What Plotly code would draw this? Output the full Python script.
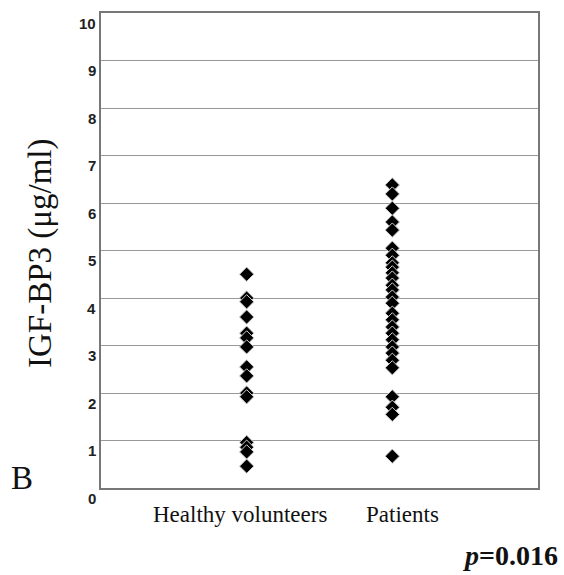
import plotly.graph_objects as go

groups = ["Healthy volunteers", "Patients"]
healthy = [4.5, 4.0, 3.92, 3.6, 3.26, 3.16, 2.97, 2.55, 2.36, 2.0, 1.92, 0.96, 0.86, 0.76, 0.46]
patients = [6.38, 6.19, 5.89, 5.6, 5.43, 5.05, 4.9, 4.74, 4.65, 4.53, 4.42, 4.27, 4.17,
            4.02, 3.89, 3.68, 3.54, 3.39, 3.26, 3.12, 2.97, 2.84, 2.69, 2.53, 1.92, 1.7, 1.55, 0.67]
y_ticks = list(range(0, 11))
p_text = "<i>p</i>=0.016"

fig = go.Figure()
for i, vals in enumerate([healthy, patients]):
    fig.add_trace(go.Scatter(
        x=[i + 1] * len(vals), y=vals, mode="markers",
        marker=dict(symbol="diamond", size=11, color="black",
                    line=dict(color="#d0d0d0", width=1)),
        showlegend=False, hoverinfo="y"))

annotations = []
for t in y_ticks:
    annotations.append(dict(x=0, y=t, xref="paper", yref="y", text="<b>" + str(t) + "</b>",
                            showarrow=False, xanchor="right", yanchor="middle",
                            xshift=-3, yshift=-10,
                            font=dict(family="Liberation Sans", size=15, color="#222")))
# category labels
annotations.append(dict(x=1, y=0, xref="x", yref="y", text=groups[0], showarrow=False,
                        xanchor="center", yanchor="top", xshift=-7, yshift=-12,
                        font=dict(family="Liberation Serif", size=23, color="#111")))
annotations.append(dict(x=2, y=0, xref="x", yref="y", text=groups[1], showarrow=False,
                        xanchor="center", yanchor="top", xshift=10, yshift=-12,
                        font=dict(family="Liberation Serif", size=23, color="#111")))
annotations.append(dict(x=40, y=254, xref="paper", yref="paper", text="IGF-BP3 (μg/ml)",
                        showarrow=False, textangle=-90, xanchor="center", yanchor="middle",
                        font=dict(family="Liberation Serif", size=33, color="#111")))
annotations.append(dict(x=22, y=478, xref="paper", yref="paper", text="B", showarrow=False,
                        xanchor="center", yanchor="middle",
                        font=dict(family="Liberation Serif", size=33, color="#111")))
annotations.append(dict(x=510, y=555, xref="paper", yref="paper", text="<b>" + p_text + "</b>",
                        showarrow=False, xanchor="center", yanchor="middle",
                        font=dict(family="Liberation Serif", size=28, color="#111")))

# convert pixel-placed paper annotations
W, H = 564, 575
ml, mr, mt, mb = 101, 26, 13, 87
pw, ph = W - ml - mr, H - mt - mb
for a in annotations[-3:]:
    a["x"] = (a["x"] - ml) / pw
    a["y"] = 1 - (a["y"] - mt) / ph

fig.update_layout(
    width=W, height=H,
    margin=dict(l=ml, r=mr, t=mt, b=mb),
    plot_bgcolor="white", paper_bgcolor="white",
    xaxis=dict(range=[0, 3], showticklabels=False, showgrid=False, zeroline=False,
               showline=True, linecolor="#777", linewidth=1.5, mirror=True, ticks=""),
    yaxis=dict(range=[0, 10], tickvals=y_ticks, showticklabels=False, showgrid=True,
               gridcolor="#999", gridwidth=1, zeroline=False,
               showline=True, linecolor="#777", linewidth=1.5, mirror=True, ticks=""),
    annotations=annotations,
)
fig.write_html("out.html")
